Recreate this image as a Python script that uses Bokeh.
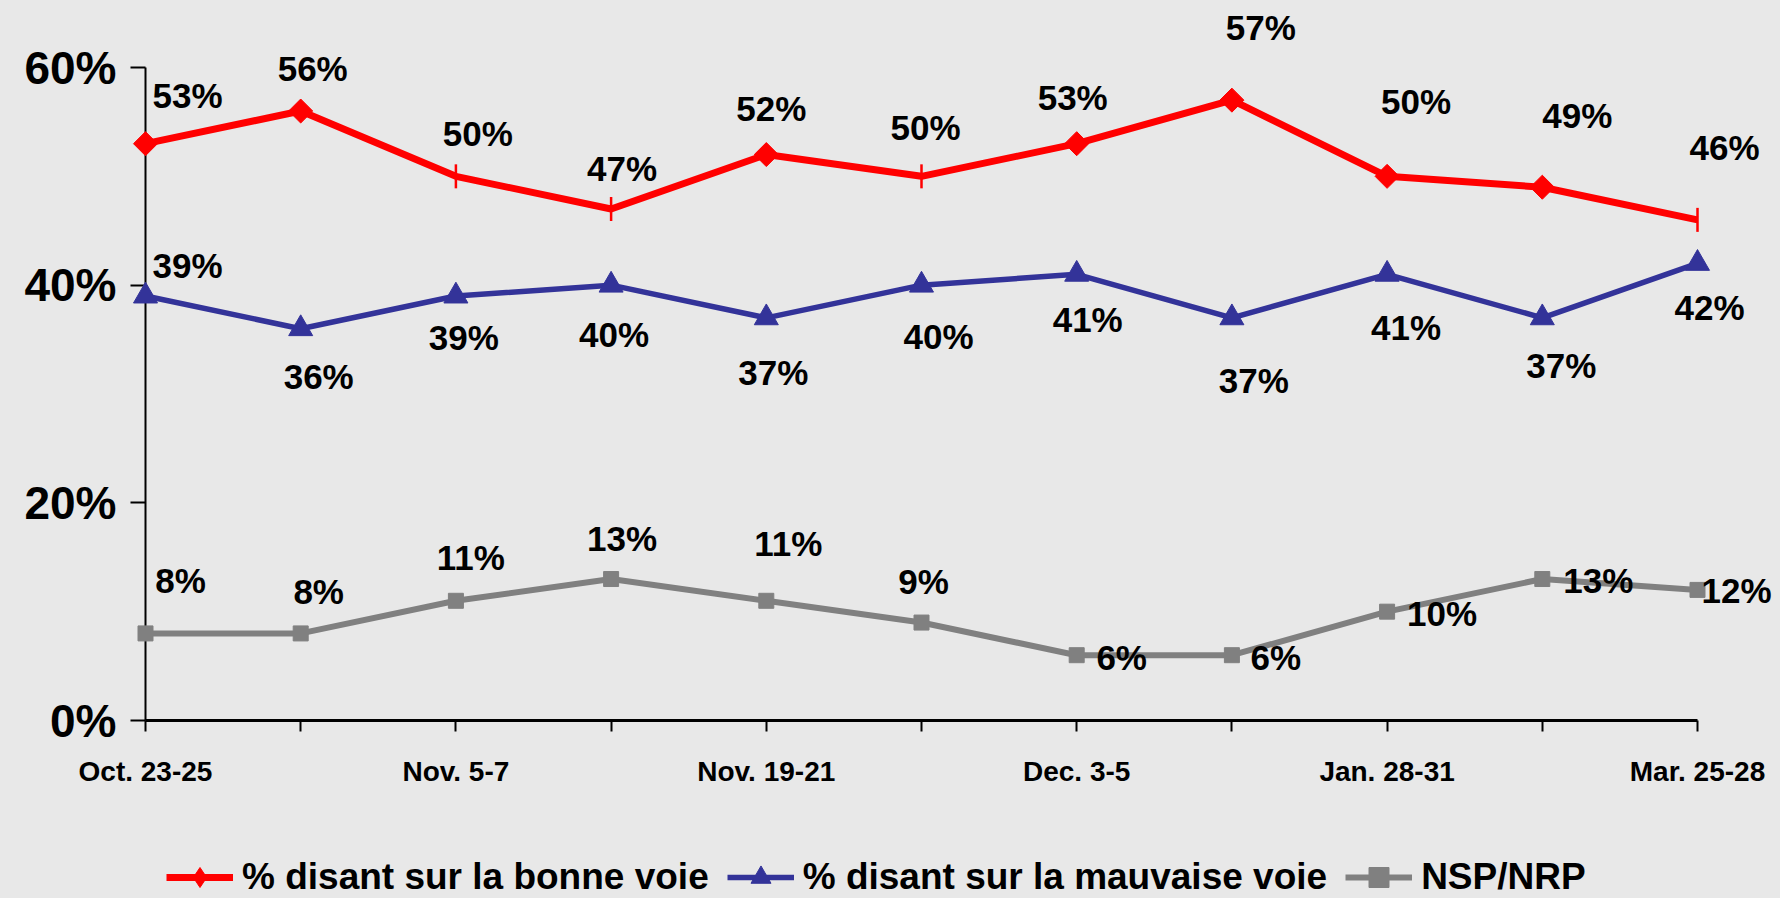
import math
from bokeh.plotting import figure
from bokeh.layouts import column
from bokeh.models import FixedTicker, PrintfTickFormatter, Legend, LegendItem, Range1d
from bokeh.core.properties import value
from bokeh.embed import file_html
from bokeh.resources import INLINE

# ---- data ----
waves = ["Oct. 23-25", "", "Nov. 5-7", "", "Nov. 19-21", "", "Dec. 3-5", "", "Jan. 28-31", "", "Mar. 25-28"]
bonne = [53, 56, 50, 47, 52, 50, 53, 57, 50, 49, 46]
mauvaise = [39, 36, 39, 40, 37, 40, 41, 37, 41, 37, 42]
nsp = [8, 8, 11, 13, 11, 9, 6, 6, 10, 13, 12]
y_ticks = [0, 20, 40, 60]
series_names = ["% disant sur la bonne voie", "% disant sur la mauvaise voie", "NSP/NRP"]

# ---- styles / label placement (screen px) ----
red_marker_style = ["d", "d", "t", "t", "d", "t", "d", "d", "d", "d", "t"]
red_dx = [42, 12, 22, 11, 5, 4, -4, 29, 29, 35, 27]
red_dy = [-48, -43, -43, -40, -46, -49, -46, -73, -75, -72, -72]
blue_dx = [42, 18, 8, 3, 7, 17, 11, 22, 19, 19, 12]
blue_dy = [-31, 48, 41, 49, 55, 51, 45, 63, 53, 48, 44]
gray_dx = [35, 18, 15, 11, 22, 2, 45, 44, 55, 56, 39]
gray_dy = [-53, -42, -43, -41, -57, -41, 2, 2, 2, 1, 1]

RED = "#ff0000"
BLUE = "#333399"
GRAY = "#808080"
BG = "#e8e8e8"
FONT = "Liberation Sans"

idx = list(range(len(waves)))

p = figure(width=1780, height=830, x_range=Range1d(0, len(waves) - 1), y_range=Range1d(0, 60),
           output_backend="svg", toolbar_location=None,
           min_border_left=145, min_border_right=83, min_border_top=67, min_border_bottom=110)
p.background_fill_alpha = 0
p.border_fill_color = BG
p.outline_line_color = None
p.xgrid.visible = False
p.ygrid.visible = False

xa = p.xaxis[0]
xa.ticker = FixedTicker(ticks=idx)
xa.major_label_overrides = {i: w for i, w in enumerate(waves)}
xa.major_tick_out = 11
xa.major_tick_in = 0
xa.minor_tick_line_color = None
xa.axis_line_width = 3
xa.axis_line_color = "black"
xa.major_tick_line_width = 2
xa.major_tick_line_color = "black"
xa.major_label_text_color = "black"
xa.major_label_text_font = FONT
xa.major_label_text_font_style = "bold"
xa.major_label_text_font_size = "28px"
xa.major_label_standoff = 24

ya = p.yaxis[0]
ya.ticker = FixedTicker(ticks=y_ticks)
ya.formatter = PrintfTickFormatter(format="%d%%")
ya.major_tick_out = 15
ya.major_tick_in = 0
ya.minor_tick_line_color = None
ya.axis_line_width = 2
ya.axis_line_color = "black"
ya.major_tick_line_width = 2
ya.major_tick_line_color = "black"
ya.major_label_text_color = "black"
ya.major_label_text_font = FONT
ya.major_label_text_font_style = "bold"
ya.major_label_text_font_size = "46px"
ya.major_label_standoff = 14

# lines
p.line(idx, bonne, line_color=RED, line_width=7, line_join="round", level="overlay")
p.line(idx, mauvaise, line_color=BLUE, line_width=5.5, line_join="round", level="overlay")
p.line(idx, nsp, line_color=GRAY, line_width=6, line_join="round", level="overlay")

# markers
d_idx = [i for i, m in enumerate(red_marker_style) if m == "d"]
t_idx = [i for i, m in enumerate(red_marker_style) if m == "t"]
p.scatter([idx[i] for i in d_idx], [bonne[i] for i in d_idx], marker="square", angle=math.pi / 4,
          size=17, fill_color=RED, line_color=RED, level="overlay")
p.scatter([idx[i] for i in t_idx], [bonne[i] for i in t_idx], marker="dash", angle=math.pi / 2,
          size=24, line_color=RED, line_width=2.5, level="overlay")
p.scatter(idx, mauvaise, marker="triangle", size=24, fill_color=BLUE, line_color=BLUE, level="overlay")
p.scatter(idx, nsp, marker="square", size=15, fill_color=GRAY, line_color=GRAY, level="overlay")

# data labels
for vals, dx, dy in ((bonne, red_dx, red_dy), (mauvaise, blue_dx, blue_dy), (nsp, gray_dx, gray_dy)):
    p.text(idx, vals, text=[f"{v}%" for v in vals], x_offset=dx, y_offset=dy,
           text_align="center", text_baseline="middle", text_color="black",
           text_font=value(FONT), text_font_style="bold", text_font_size="35px", level="overlay")

# ---- legend strip (separate figure; its series are kept outside its visible range) ----
pl = figure(width=1780, height=68, output_backend="svg", toolbar_location=None,
            x_range=Range1d(0, len(waves) - 1), y_range=Range1d(100, 101),
            min_border_left=0, min_border_right=0, min_border_top=0, min_border_bottom=0)
pl.background_fill_alpha = 0
pl.border_fill_color = BG
pl.outline_line_color = None
pl.axis.visible = False
pl.grid.visible = False

k_red_l = pl.line(idx, bonne, line_color=RED, line_width=7)
k_red_m = pl.scatter(idx, bonne, marker="diamond", fill_color=RED, line_color=RED)
k_blue_l = pl.line(idx, mauvaise, line_color=BLUE, line_width=5.5)
k_blue_m = pl.scatter(idx, mauvaise, marker="triangle", fill_color=BLUE, line_color=BLUE)
k_gray_l = pl.line(idx, nsp, line_color=GRAY, line_width=6)
k_gray_m = pl.scatter(idx, nsp, marker="square", fill_color=GRAY, line_color=GRAY)

legend = Legend(items=[LegendItem(label=series_names[0], renderers=[k_red_l, k_red_m]),
                       LegendItem(label=series_names[1], renderers=[k_blue_l, k_blue_m]),
                       LegendItem(label=series_names[2], renderers=[k_gray_l, k_gray_m])],
                orientation="horizontal", location=(21, -4),
                glyph_width=67, glyph_height=50, label_standoff=9, spacing=18,
                padding=0, margin=0, border_line_color=None, background_fill_alpha=0,
                label_text_color="black",
                label_text_font=FONT, label_text_font_style="bold", label_text_font_size="37px")
pl.add_layout(legend)

layout = column(p, pl, spacing=0, styles={"background-color": BG})
open("out.html", "w").write(file_html(layout, INLINE))
